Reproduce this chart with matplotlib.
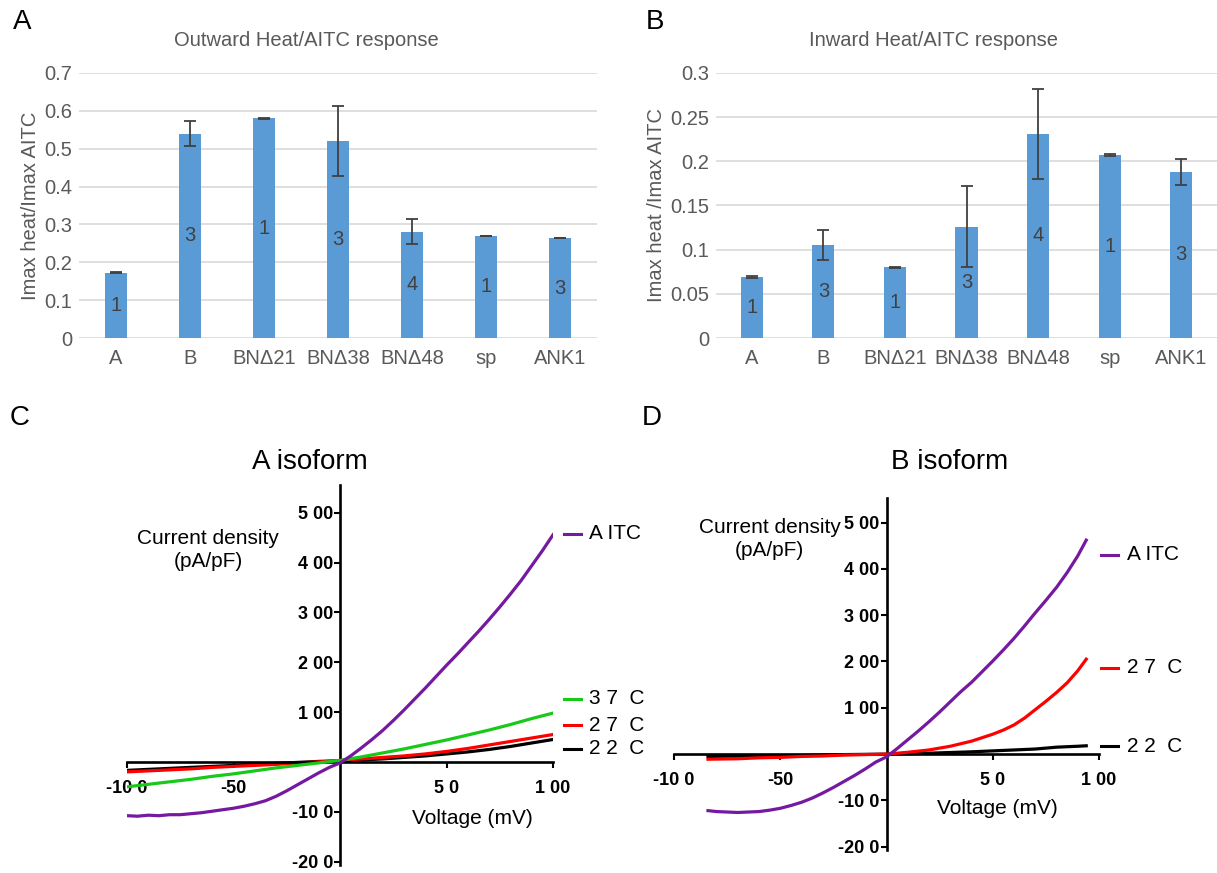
import matplotlib
matplotlib.use("Agg")
import matplotlib.pyplot as plt

plt.rcParams['font.family'] = ['Liberation Sans', 'DejaVu Sans']

W, H = 1217, 873

# ---- bar chart data (panels A and B) ----
constructs = ["A", "B", "BNΔ21", "BNΔ38", "BNΔ48", "sp", "ANK1"]
n_cells = [1, 3, 1, 3, 4, 1, 3]

outward_mean = [0.173, 0.540, 0.580, 0.520, 0.281, 0.270, 0.263]
outward_err = [0.002, 0.033, 0.002, 0.093, 0.034, 0.0, 0.0]

inward_mean = [0.069, 0.105, 0.080, 0.126, 0.231, 0.207, 0.188]
inward_err = [0.0008, 0.017, 0.0008, 0.046, 0.051, 0.0008, 0.015]

# ---- I-V traces, panel C (A isoform) ----
volt_c = [-100, -95, -90, -85, -80, -75, -70, -65, -60, -55, -50, -45, -40, -35, -30,
          -25, -20, -15, -10, -5, 0, 5, 10, 15, 20, 25, 30, 35, 40, 45, 50, 55, 60,
          65, 70, 75, 80, 85, 90, 95, 100]
aitc_c = [-108, -109, -107, -108, -106, -106, -104, -102, -99, -96, -93, -89, -84, -78, -69,
          -58, -46, -34, -22, -11, -2, 12, 28, 45, 63, 83, 104, 126, 148, 171, 194, 216, 239,
          262, 286, 311, 337, 364, 394, 424, 456]
volt_c_t = [-100, -90, -80, -70, -60, -50, -40, -30, -20, -10, 0, 10, 20, 30, 40, 50, 60,
            70, 80, 90, 100]
t37_c = [-50, -45, -40, -35, -29, -24, -18, -12, -7, -2, 3, 10, 18, 26, 35, 44, 54, 64, 75, 87, 98]
t27_c = [-20, -18, -16, -14, -11, -9, -7, -5, -2, 0, 3, 6, 9, 12, 16, 21, 27, 34, 41, 48, 55]
t22_c = [-17, -15, -13, -11, -9, -7, -5, -3, -1, 1, 2, 4, 6, 9, 12, 16, 20, 25, 31, 38, 45]

# ---- I-V traces, panel D (B isoform) ----
volt_d = [-84, -80, -75, -70, -65, -60, -55, -50, -45, -40, -35, -30, -25, -20, -15, -10,
          -5, 0, 5, 10, 15, 20, 25, 30, 35, 40, 45, 50, 55, 60, 65, 70, 75, 80, 85, 90, 94]
aitc_d = [-122, -124, -125, -126, -125, -124, -121, -117, -111, -104, -95, -84, -72, -59, -46,
          -32, -17, -6, 12, 31, 50, 70, 91, 113, 135, 155, 178, 201, 225, 250, 277, 305, 332,
          360, 392, 428, 462]
volt_d_r = [-84, -70, -60, -50, -40, -30, -20, -10, 0, 10, 20, 30, 40, 50, 55, 60, 65, 70,
            75, 80, 85, 90, 94]
t27_d = [-11, -10, -8, -7, -5, -4, -2, -1, 0, 4, 9, 17, 28, 43, 52, 63, 78, 96, 114, 133,
         154, 180, 205]
volt_d_k = [-84, -60, -40, -20, 0, 20, 40, 50, 60, 70, 80, 90, 94]
t22_d = [-5, -4, -3, -1, 0, 2, 5, 7, 9, 11, 15, 17, 18]

iv_yticks = [-200, -100, 100, 200, 300, 400, 500]
iv_ylabels = ["-20 0", "-10 0", "1 00", "2 00", "3 00", "4 00", "5 00"]
iv_xticks = [-100, -50, 50, 100]
iv_xlabels = ["-10 0", "-50", "5 0", "1 00"]

bar_color = "#5B9BD5"
gray = "#595959"
purple = "#7419A0"
green = "#19C919"
red = "#FF0000"
FS = 14.5


def box(left, top, right, bottom):
    return [left / W, 1 - bottom / H, (right - left) / W, (bottom - top) / H]


fig = plt.figure(figsize=(W / 100, H / 100), dpi=100)


def fmt_plain(v):
    s = "%.2f" % v
    s = s.rstrip('0').rstrip('.')
    return s if s else "0"


def bar_panel(rect, means, errs, ymax, step, ylabel):
    ax = fig.add_axes(rect)
    x = list(range(len(constructs)))
    ax.bar(x, means, width=0.31, color=bar_color, zorder=3)
    ax.errorbar(x, means, yerr=errs, fmt='none', ecolor="#404040", elinewidth=1.3,
                capsize=4, capthick=1.3, zorder=4)
    for xi, m, n in zip(x, means, n_cells):
        ax.text(xi, m / 2, str(n), ha='center', va='center', fontsize=FS,
                color="#404040", zorder=5)
    ax.set_xlim(-0.5, len(constructs) - 0.5)
    ax.set_ylim(0, ymax)
    ticks = [i * step for i in range(int(round(ymax / step)) + 1)]
    ax.set_yticks(ticks)
    ax.set_yticklabels([fmt_plain(t) for t in ticks])
    ax.set_xticks(x)
    ax.set_xticklabels(constructs)
    ax.grid(axis='y', color="#D9D9D9", linewidth=1.2, zorder=0)
    for s in ax.spines.values():
        s.set_visible(False)
    ax.tick_params(length=0, labelsize=FS, labelcolor=gray)
    ax.tick_params(axis='x', pad=8)
    ax.tick_params(axis='y', pad=5)
    ax.set_ylabel(ylabel, fontsize=FS, color=gray, labelpad=3)
    return ax


axA = bar_panel(box(79, 73, 597, 338), outward_mean, outward_err, 0.7, 0.1,
                "Imax heat/Imax AITC")
axB = bar_panel(box(716, 73, 1217, 338), inward_mean, inward_err, 0.3, 0.05,
                "Imax heat /Imax AITC")

fig.text(306 / W, 1 - 40 / H, "Outward Heat/AITC response", ha='center', va='center',
         fontsize=FS, color=gray)
fig.text(934 / W, 1 - 40 / H, "Inward Heat/AITC response", ha='center', va='center',
         fontsize=FS, color=gray)


def iv_panel(rect, ylo, yhi):
    ax = fig.add_axes(rect)
    ax.set_xlim(-100, 100)
    ax.set_ylim(ylo, yhi)
    ax.spines['left'].set_position(('data', 0))
    ax.spines['bottom'].set_position(('data', 0))
    ax.spines['right'].set_visible(False)
    ax.spines['top'].set_visible(False)
    for s in ('left', 'bottom'):
        ax.spines[s].set_linewidth(1.9)
    ax.set_yticks(iv_yticks)
    ax.set_yticklabels(iv_ylabels, fontweight='bold')
    ax.set_xticks(iv_xticks)
    ax.set_xticklabels(iv_xlabels, fontweight='bold')
    ax.tick_params(direction='out', length=4, width=1.5, labelsize=13)
    ax.tick_params(axis='x', pad=9)
    ax.tick_params(axis='y', pad=1)
    ax.patch.set_visible(False)
    return ax


def trace_key(ax, x0, yv, label, col):
    # short coloured key line plus label, drawn beside the trace ends
    ax.plot([x0, x0 + 8], [yv, yv], color=col, lw=2.2, clip_on=False)
    ax.text(x0 + 12, yv, label, color='black', fontsize=15, va='center', ha='left',
            clip_on=False)


axC = iv_panel(box(127, 485, 553, 865), -207, 556)
axC.plot(volt_c_t, t22_c, color='black', lw=2.3, zorder=2)
axC.plot(volt_c_t, t27_c, color=red, lw=2.3, zorder=2)
axC.plot(volt_c_t, t37_c, color=green, lw=2.3, zorder=3)
axC.plot(volt_c, aitc_c, color=purple, lw=2.3, zorder=4)
for yv, lab, col in [(458, "A ITC", purple), (127, "3 7  C", green),
                     (74, "2 7  C", red), (26, "2 2  C", 'black')]:
    trace_key(axC, 105, yv, lab, col)
axC.text(-62, 426, "Current density\n(pA/pF)", ha='center', va='center', fontsize=15,
         linespacing=1.25)
axC.text(62, -113, "Voltage (mV)", ha='center', va='center', fontsize=15)
fig.text(310 / W, 1 - 462 / H, "A isoform", ha='center', va='center', fontsize=20)

axD = iv_panel(box(674, 498, 1099, 850), -207, 553)
axD.plot(volt_d_k, t22_d, color='black', lw=2.3, zorder=2)
axD.plot(volt_d_r, t27_d, color=red, lw=2.3, zorder=3)
axD.plot(volt_d, aitc_d, color=purple, lw=2.3, zorder=4)
for yv, lab, col in [(430, "A ITC", purple), (186, "2 7  C", red), (17, "2 2  C", 'black')]:
    trace_key(axD, 101, yv, lab, col)
axD.text(-55, 464, "Current density\n(pA/pF)", ha='center', va='center', fontsize=15,
         linespacing=1.25)
axD.text(52, -117, "Voltage (mV)", ha='center', va='center', fontsize=15)
fig.text(950 / W, 1 - 462 / H, "B isoform", ha='center', va='center', fontsize=20)

for lx, ly, letter in [(22, 22, "A"), (655, 22, "B"), (20, 418, "C"), (652, 418, "D")]:
    fig.text(lx / W, 1 - ly / H, letter, ha='center', va='center', fontsize=20)

fig.savefig("out.png", dpi=100)
